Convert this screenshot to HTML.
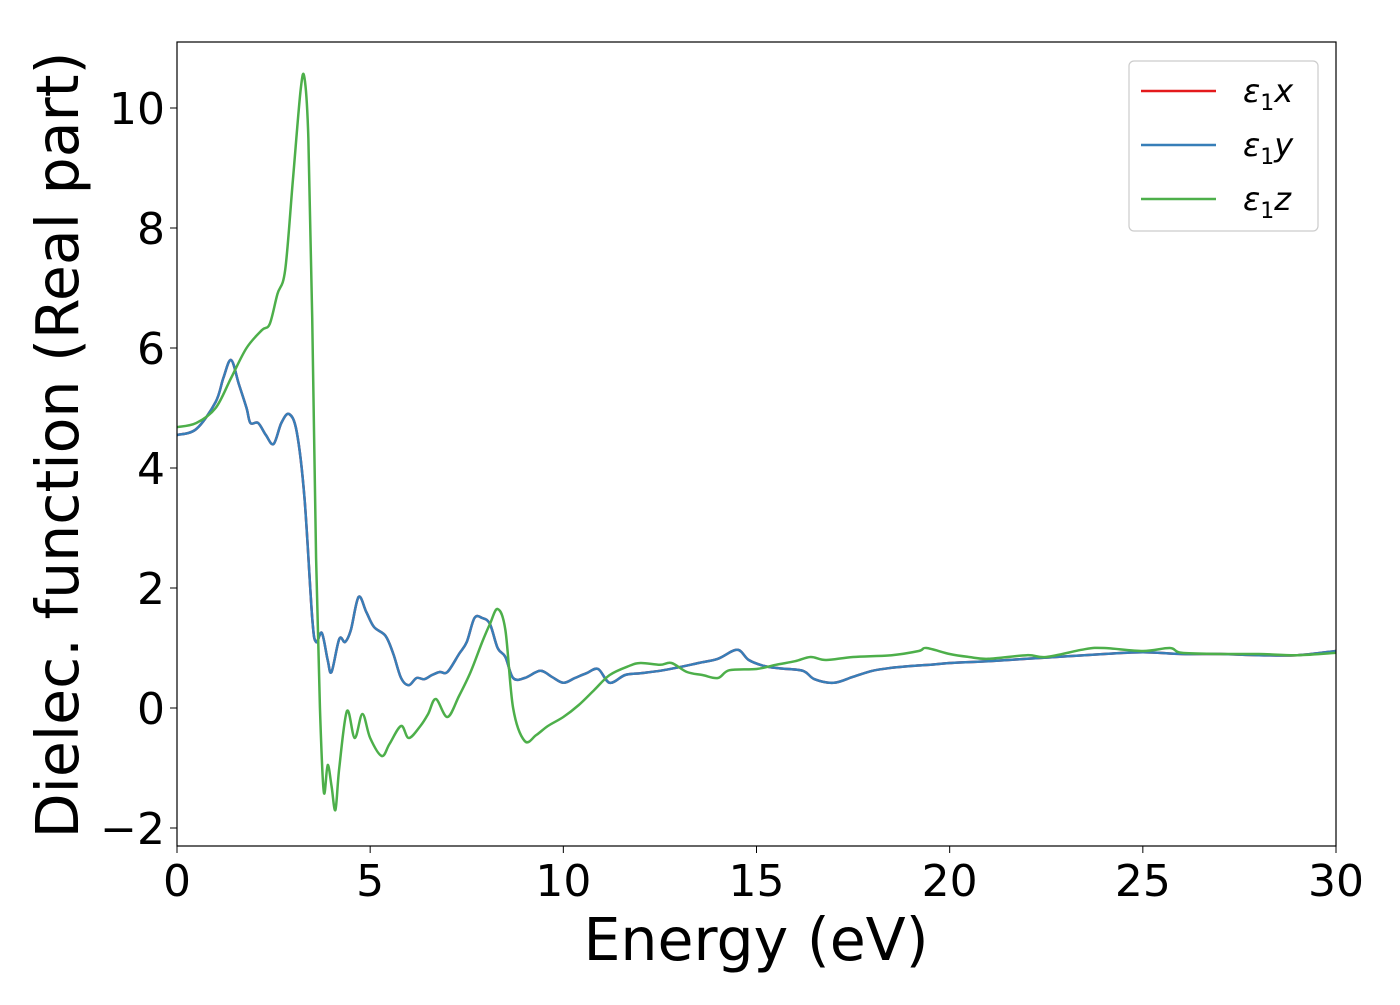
<!DOCTYPE html>
<html><head><meta charset="utf-8"><style>
body{margin:0;background:#fff;}
svg text{font-family:"DejaVu Sans","Liberation Sans",sans-serif;fill:#000;}
</style></head><body>
<svg id="chart" width="1400" height="1000" xmlns="http://www.w3.org/2000/svg">
<rect x="0" y="0" width="1400" height="1000" fill="#fff"/>
<g id="plot"></g>
<rect x="177" y="42" width="1159" height="804" fill="none" stroke="#000" stroke-width="1.2"/>
<g id="ticks"></g>
<text x="756" y="960" font-size="58.5" text-anchor="middle">Energy (eV)</text>
<text transform="translate(78,445) rotate(-90)" font-size="58.5" text-anchor="middle">Dielec. function (Real part)</text>
<g>
<rect x="1129" y="61" width="189" height="170" rx="5" fill="#fff" stroke="#ccc" stroke-width="1.2"/>
<line x1="1141" y1="91" x2="1216" y2="91" stroke="#e41a1c" stroke-width="2.5"/>
<text x="1243" y="102" font-size="32" font-style="italic">ε<tspan font-style="normal" font-size="22" dy="8">1</tspan><tspan dy="-8">x</tspan></text>
<line x1="1141" y1="145" x2="1216" y2="145" stroke="#377eb8" stroke-width="2.5"/>
<text x="1243" y="156" font-size="32" font-style="italic">ε<tspan font-style="normal" font-size="22" dy="8">1</tspan><tspan dy="-8">y</tspan></text>
<line x1="1141" y1="199" x2="1216" y2="199" stroke="#4daf4a" stroke-width="2.5"/>
<text x="1243" y="210" font-size="32" font-style="italic">ε<tspan font-style="normal" font-size="22" dy="8">1</tspan><tspan dy="-8">z</tspan></text>
</g>
</svg>
<script>
const energyXY=[0,0.5,1.0,1.2,1.4,1.6,1.8,1.9,2.1,2.3,2.5,2.7,2.9,3.1,3.3,3.5,3.6,3.75,3.9,4.0,4.2,4.35,4.5,4.7,4.9,5.1,5.4,5.6,5.8,6.0,6.2,6.4,6.6,6.8,7.0,7.3,7.5,7.7,7.9,8.1,8.3,8.5,8.7,9.0,9.4,9.7,10.0,10.3,10.6,10.9,11.2,11.6,12,12.5,13,13.5,14,14.5,14.8,15.2,15.6,16.2,16.5,17,17.5,18,18.5,19,19.5,20,21,22,23,24,25,26,27,28,29,30];
const epsXY=[4.55,4.65,5.1,5.5,5.8,5.4,5.0,4.75,4.75,4.55,4.4,4.75,4.9,4.6,3.5,1.5,1.1,1.25,0.8,0.6,1.15,1.1,1.3,1.85,1.6,1.35,1.2,0.9,0.5,0.38,0.5,0.48,0.55,0.6,0.6,0.9,1.1,1.5,1.5,1.4,1.0,0.85,0.5,0.5,0.62,0.52,0.42,0.5,0.58,0.65,0.42,0.55,0.58,0.62,0.68,0.75,0.82,0.97,0.8,0.7,0.66,0.62,0.48,0.42,0.52,0.62,0.67,0.7,0.72,0.75,0.78,0.82,0.86,0.9,0.93,0.9,0.9,0.88,0.88,0.95];
const energyZ=[0,0.5,1.0,1.4,1.8,2.2,2.4,2.6,2.8,3.0,3.2,3.3,3.4,3.5,3.6,3.7,3.8,3.9,4.0,4.1,4.2,4.4,4.6,4.8,5.0,5.3,5.5,5.8,6.0,6.3,6.5,6.7,7.0,7.3,7.6,7.9,8.1,8.3,8.5,8.7,9.0,9.3,9.6,10,10.4,10.8,11.2,11.7,12,12.5,12.8,13.2,13.6,14,14.3,15,15.5,16,16.4,16.8,17.5,18.5,19.2,19.4,20,20.5,21,22,22.5,23.5,24,25,25.7,26,27,28,29,30];
const epsZ=[4.68,4.75,5.0,5.5,6.0,6.3,6.4,6.9,7.3,8.8,10.3,10.5,9.5,6.5,2.5,0.0,-1.4,-0.95,-1.3,-1.7,-1.0,-0.05,-0.5,-0.1,-0.5,-0.8,-0.6,-0.3,-0.5,-0.3,-0.1,0.15,-0.15,0.2,0.6,1.1,1.4,1.65,1.3,0.0,-0.55,-0.45,-0.3,-0.15,0.05,0.3,0.55,0.7,0.75,0.72,0.75,0.6,0.55,0.5,0.63,0.65,0.72,0.78,0.85,0.8,0.85,0.88,0.95,1.0,0.9,0.85,0.82,0.88,0.85,0.98,1.0,0.95,1.0,0.92,0.9,0.9,0.88,0.92];
const xTicks=[0,5,10,15,20,25,30];
const yTicks=[-2,0,2,4,6,8,10];
const X0=177,X1=1336,Y0=42,Y1=846,xmin=0,xmax=30,ymin=-2.3,ymax=11.1;
const sx=v=>X0+(v-xmin)/(xmax-xmin)*(X1-X0);
const sy=v=>Y1-(v-ymin)/(ymax-ymin)*(Y1-Y0);
const NS='http://www.w3.org/2000/svg';
const plot=document.getElementById('plot'),ticks=document.getElementById('ticks');
function line(xs,ys,color,name){
  const p=document.createElementNS(NS,'path');
  const pts=xs.map((x,i)=>[sx(x),sy(ys[i])]);
  let d='M'+pts[0][0]+','+pts[0][1];
  for(let i=0;i<pts.length-1;i++){
    const p0=pts[Math.max(0,i-1)],p1=pts[i],p2=pts[i+1],p3=pts[Math.min(pts.length-1,i+2)];
    d+=' C'+(p1[0]+(p2[0]-p0[0])/6)+','+(p1[1]+(p2[1]-p0[1])/6)+' '+(p2[0]-(p3[0]-p1[0])/6)+','+(p2[1]-(p3[1]-p1[1])/6)+' '+p2[0]+','+p2[1];
  }
  p.setAttribute('d',d);p.setAttribute('fill','none');p.setAttribute('stroke',color);p.setAttribute('stroke-width','2.5');
  
  
  plot.appendChild(p);
}
line(energyXY,epsXY,'#e41a1c','series-eps1-x');
line(energyXY,epsXY,'#377eb8','series-eps1-y');
line(energyZ,epsZ,'#4daf4a','series-eps1-z');
xTicks.forEach(v=>{
  const l=document.createElementNS(NS,'line');
  l.setAttribute('x1',sx(v));l.setAttribute('x2',sx(v));l.setAttribute('y1',Y1);l.setAttribute('y2',Y1+7);l.setAttribute('stroke','#000');
  
  
  ticks.appendChild(l);
  const t=document.createElementNS(NS,'text');
  t.setAttribute('x',sx(v));t.setAttribute('y',Y1+50);t.setAttribute('font-size','44');t.setAttribute('text-anchor','middle');
  t.textContent=v;
  
  
  ticks.appendChild(t);
});
yTicks.forEach(v=>{
  const l=document.createElementNS(NS,'line');
  l.setAttribute('x1',X0-7);l.setAttribute('x2',X0);l.setAttribute('y1',sy(v));l.setAttribute('y2',sy(v));l.setAttribute('stroke','#000');
  
  
  ticks.appendChild(l);
  const t=document.createElementNS(NS,'text');
  t.setAttribute('x',X0-12);t.setAttribute('y',sy(v)+16);t.setAttribute('font-size','44');t.setAttribute('text-anchor','end');
  t.textContent=v<0?'\u2212'+Math.abs(v):v;
  
  
  ticks.appendChild(t);
});
</script>
</body></html>
